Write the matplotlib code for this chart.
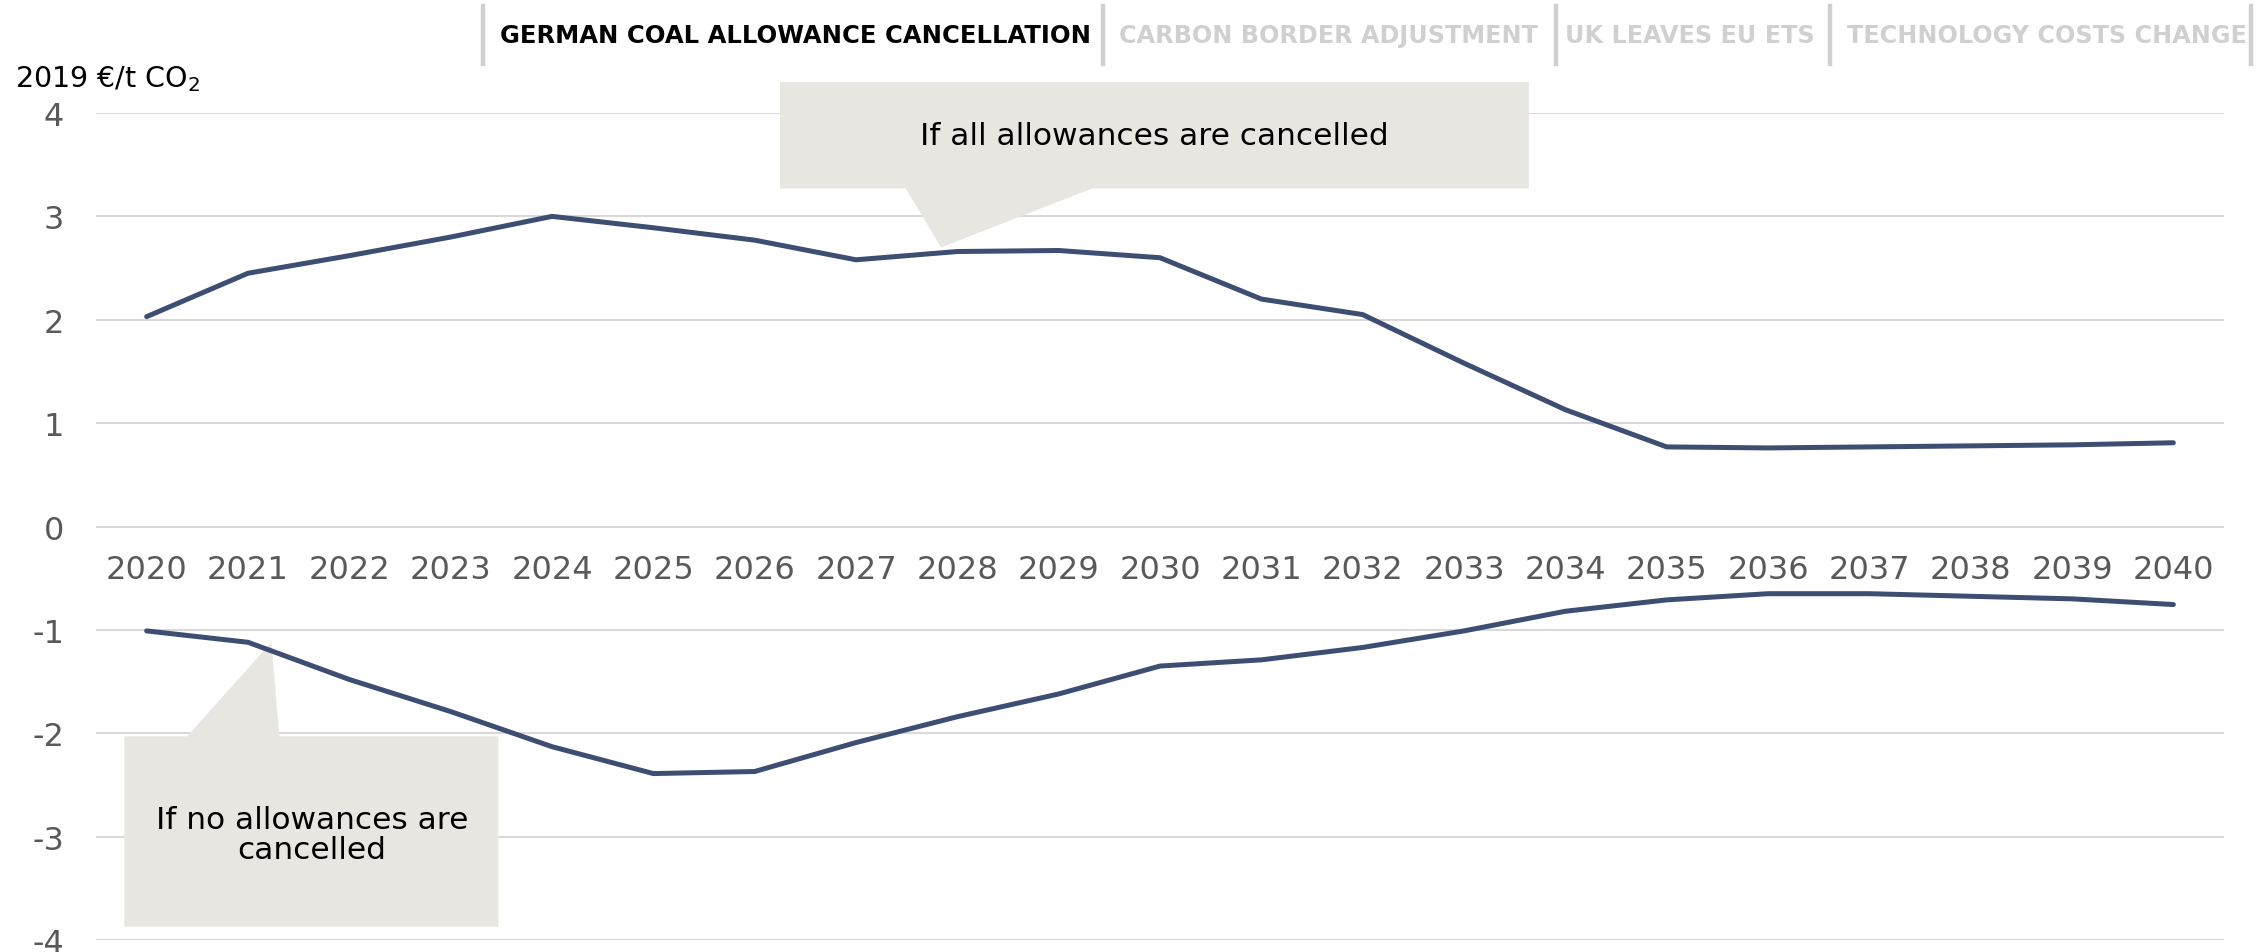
import matplotlib as mpl
import matplotlib.pyplot as plt
from matplotlib.lines import Line2D
from matplotlib.patches import Polygon

YEARS = list(range(2020, 2041))
ALL_CANCELLED = [2.03, 2.45, 2.62, 2.80, 3.00, 2.89, 2.77, 2.58, 2.66, 2.67, 2.60,
                 2.20, 2.05, 1.58, 1.13, 0.77, 0.76, 0.77, 0.78, 0.79, 0.81]
NONE_CANCELLED = [-1.01, -1.12, -1.48, -1.79, -2.13, -2.39, -2.37, -2.09, -1.84, -1.62, -1.35,
                  -1.29, -1.17, -1.01, -0.82, -0.71, -0.65, -0.65, -0.675, -0.70, -0.755]
Y_TICKS = [-4, -3, -2, -1, 0, 1, 2, 3, 4]

TABS = ["GERMAN COAL ALLOWANCE CANCELLATION", "CARBON BORDER ADJUSTMENT",
        "UK LEAVES EU ETS", "TECHNOLOGY COSTS CHANGE"]
ACTIVE_TAB = 0

COLORS = {
    "line": "#3E4E72",
    "grid": "#D9D9D9",
    "tick": "#595959",
    "callout": "#E8E6E0",
    "tab_off": "#D0D0D0",
    "tab_bar": "#D0D0D0",
}

W, H = 2260, 953


def fx(px):
    return px / W


def fy(py):
    return 1 - py / H


def callout(ax, box, base, tip, text, text_xy, pointer="bottom"):
    x0, x1, y0, y1 = box  # y0 bottom, y1 top
    b0, b1 = base
    if pointer == "bottom":
        pts = [(x0, y1), (x1, y1), (x1, y0), (b1, y0), tip, (b0, y0), (x0, y0)]
    else:
        pts = [(x0, y0), (x0, y1), (b0, y1), tip, (b1, y1), (x1, y1), (x1, y0)]
    ax.add_patch(Polygon(pts, closed=True, facecolor=COLORS["callout"],
                         edgecolor="none", clip_on=False, zorder=2))
    ax.text(*text_xy, text, ha="center", va="center", fontsize=22.5,
            color="black", zorder=3, linespacing=1.05)


def main():
    mpl.rcParams.update({
        "font.family": ["DejaVu Sans"],
        "axes.unicode_minus": False,
        "axes.spines.top": False,
        "axes.spines.right": False,
        "axes.spines.left": False,
    })

    fig = plt.figure(figsize=(W / 100, H / 100), dpi=100)
    ax = fig.add_axes([fx(96), fy(941), fx(2224) - fx(96), fy(114) - fy(941)])

    ax.set_xlim(2019.5, 2040.5)
    ax.set_ylim(-4, 4)
    ax.set_yticks(Y_TICKS)
    ax.set_xticks(YEARS)
    ax.grid(axis="y", color=COLORS["grid"], linewidth=1.5)
    ax.set_axisbelow(True)

    ax.spines["bottom"].set_position(("data", 0))
    ax.spines["bottom"].set_visible(False)
    ax.tick_params(axis="both", length=0, labelsize=23, labelcolor=COLORS["tick"])
    ax.tick_params(axis="x", pad=19.5)
    ax.tick_params(axis="y", pad=23)

    ax.plot(YEARS, ALL_CANCELLED, color=COLORS["line"], lw=3.6,
            solid_capstyle="round", zorder=4)
    ax.plot(YEARS, NONE_CANCELLED, color=COLORS["line"], lw=3.6,
            solid_capstyle="round", zorder=4)

    callout(ax, (2026.25, 2033.64, 3.27, 4.30), (2027.49, 2029.33), (2027.84, 2.70),
            "If all allowances are cancelled", (2029.94, 3.78), pointer="bottom")
    callout(ax, (2019.78, 2023.47, -3.87, -2.03), (2020.40, 2021.31), (2021.23, -1.12),
            "If no allowances are\ncancelled", (2021.63, -2.98), pointer="top")

    fig.text(fx(15), fy(87), "2019 €/t CO$_2$", fontsize=20.5, color="black",
             ha="left", va="baseline")

    # tab strip along the top
    tab_left = [500, 1119, 1565, 1847]
    bars = [483, 1103, 1556, 1830, 2251]
    for i, (label, left) in enumerate(zip(TABS, tab_left)):
        active = i == ACTIVE_TAB
        fig.text(fx(left), fy(36), label, fontsize=17.5 if active else 17.2,
                 fontweight="bold", color="black" if active else COLORS["tab_off"],
                 ha="left", va="center")
    for bx in bars:
        fig.add_artist(Line2D([fx(bx), fx(bx)], [fy(7), fy(65)], color=COLORS["tab_bar"],
                              lw=3.2, transform=fig.transFigure))

    fig.savefig("out.png", dpi=100)
    plt.close(fig)


if __name__ == "__main__":
    main()
